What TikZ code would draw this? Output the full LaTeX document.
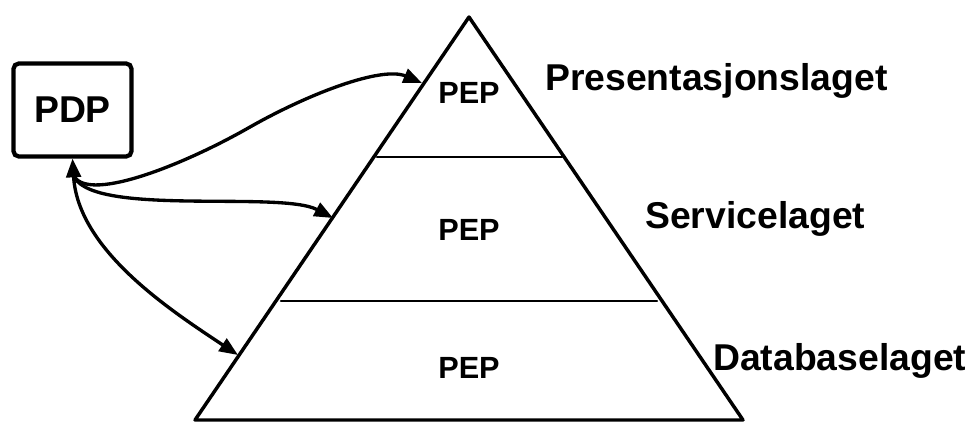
\documentclass[tikz,border=0pt]{standalone}
\usepackage{fontspec}
\setmainfont{Liberation Sans}
\usetikzlibrary{arrows.meta}
\begin{document}
\begin{tikzpicture}[x=0.75pt,y=-0.75pt,
  conn/.style={line width=2.5pt,-{Triangle[length=14pt,width=11pt]}},
  layertext/.style={font=\fontsize{28}{30}\selectfont\bfseries,anchor=base west,inner sep=0pt},
  peptext/.style={font=\fontsize{23}{25}\selectfont\bfseries,anchor=base,inner sep=0pt},
  divider/.style={line width=1.8pt,line cap=round},
  pdpbox/.style={draw,line width=3.2pt,rounded corners=4pt,minimum width=88.5pt,minimum height=69.75pt,font=\fontsize{28}{30}\selectfont\bfseries,inner sep=0pt}
]
\useasboundingbox (0,0) rectangle (970,426);
% pyramid
\coordinate (apex) at (469,17);
\coordinate (bl) at (195,420);
\coordinate (br) at (743,420);
\draw[line width=2.6pt,line join=round] (apex) -- (bl) -- (br) -- cycle;
\coordinate (d1l) at (377,157);
\coordinate (d1r) at (562,157);
\coordinate (d2l) at (281,301);
\coordinate (d2r) at (657,301);
\draw[divider] (d1l) -- (d1r);
\draw[divider] (d2l) -- (d2r);
% PEP labels
\node[peptext] (pep1) at (469,103) {PEP};
\node[peptext] (pep2) at (469,240) {PEP};
\node[peptext] (pep3) at (469,378) {PEP};
% layer names
\node[layertext] (lay1) at (545,90) {Presentasjonslaget};
\node[layertext] (lay2) at (645,228) {Servicelaget};
\node[layertext] (lay3) at (713,370) {Databaselaget};
% PDP
\node[pdpbox] (pdp) at (72.5,110) {PDP};
% connectors
\coordinate (hub) at (73,174);
\coordinate (m1) at (250,127);
\coordinate (t1) at (422,83);
\coordinate (t2) at (333,218);
\coordinate (t3) at (238,355);
\draw[conn] (hub) .. controls (84,204) and (180,167) .. (m1) .. controls (310,93) and (382,66) .. (t1);
\draw[conn] (hub) .. controls (86,218) and (280,190) .. (t2);
\draw[conn,{Triangle[length=14pt,width=11pt]}-{Triangle[length=14pt,width=11pt]}] (pdp.south) .. controls (78,250) and (170,310) .. (t3);
\end{tikzpicture}
\end{document}
